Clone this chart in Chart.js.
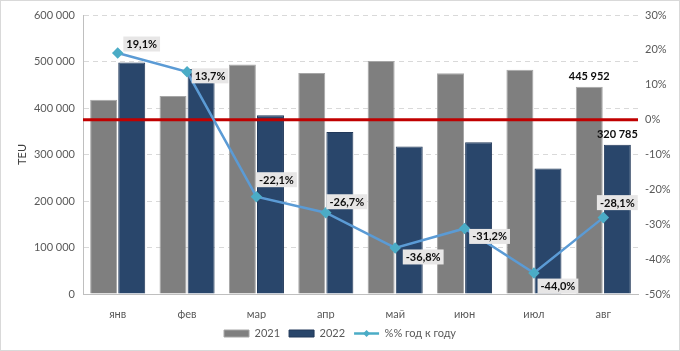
<!DOCTYPE html>
<html>
<head>
<meta charset="utf-8">
<script src="https://cdn.jsdelivr.net/npm/chart.js@4"></script>
<style>
  html, body { margin: 0; padding: 0; background: #fff; }
  canvas { display: block; }
</style>
</head>
<body>
<canvas id="myChart" width="680" height="351"></canvas>
<script>
const months = ["янв", "фев", "мар", "апр", "май", "июн", "июл", "авг"];
const teu2021 = [418000, 426000, 493600, 475500, 501000, 474700, 482000, 445952];
const teu2022 = [498000, 484000, 384500, 348600, 317000, 326600, 270000, 320785];
const yoyPct = [19.1, 13.7, -22.1, -26.7, -36.8, -31.2, -44.0, -28.1];
const seriesNames = ["2021", "2022", "%% год к году"];

// where each % label box sits relative to its point (dx, dy)
const pctLabelOffsets = [[24, -9], [23, 4], [20, -17], [21, -11], [28, 9], [25, 8], [24, 13], [14, -15]];
const barLabelIndex = 7;

Chart.defaults.font.family = "Lato";
Chart.defaults.font.size = 11;
Chart.defaults.color = "#595959";

const fmtNum = v => String(Math.round(v)).replace(/\B(?=(\d{3})+(?!\d))/g, " ");
const fmtPct = v => v.toFixed(1).replace(".", ",") + "%";

const zeroLine = {
  id: "zeroLine",
  beforeDatasetDraw(chart, args) {
    if (args.index !== 2) return;
    const { ctx, chartArea } = chart;
    const y = chart.scales.y1.getPixelForValue(0);
    ctx.save();
    ctx.strokeStyle = "#C00000";
    ctx.lineWidth = 3;
    ctx.beginPath();
    ctx.moveTo(chartArea.left, y);
    ctx.lineTo(chartArea.right, y);
    ctx.stroke();
    ctx.restore();
  }
};

const valueLabels = {
  id: "valueLabels",
  afterDatasetsDraw(chart) {
    const ctx = chart.ctx;
    ctx.save();
    ctx.font = "bold 11px Lato";
    ctx.textAlign = "center";
    ctx.textBaseline = "middle";
    chart.getDatasetMeta(2).data.forEach((p, i) => {
      const txt = fmtPct(yoyPct[i]);
      const [dx, dy] = pctLabelOffsets[i];
      const w = ctx.measureText(txt).width + 6, h = 15;
      const cx = p.x + dx, cy = p.y + dy;
      ctx.fillStyle = "#E7E6E6";
      ctx.fillRect(cx - w / 2, cy - h / 2, w, h);
      ctx.fillStyle = "#0D0D0D";
      ctx.fillText(txt, cx, cy + 0.5);
    });
    ctx.textBaseline = "bottom";
    ctx.fillStyle = "#0D0D0D";
    [teu2021, teu2022].forEach((arr, di) => {
      const bar = chart.getDatasetMeta(di).data[barLabelIndex];
      ctx.fillText(fmtNum(arr[barLabelIndex]), bar.x, bar.y - 5);
    });
    ctx.restore();
  }
};

const frame = {
  id: "frame",
  afterDraw(chart) {
    const ctx = chart.ctx;
    ctx.save();
    // diamond on the line legend item
    const hb = chart.legend.legendHitBoxes[2];
    if (hb) {
      const x = hb.left + 12.5, y = hb.top + hb.height / 2, r = 3.5;
      ctx.fillStyle = "#4BACC6";
      ctx.beginPath();
      ctx.moveTo(x, y - r); ctx.lineTo(x + r, y); ctx.lineTo(x, y + r); ctx.lineTo(x - r, y);
      ctx.closePath();
      ctx.fill();
    }
    ctx.strokeStyle = "#D9D9D9";
    ctx.lineWidth = 1;
    ctx.strokeRect(0.5, 0.5, chart.width - 1, chart.height - 1);
    ctx.restore();
  }
};

const data = {
  labels: months,
  datasets: [
    {
      type: "bar",
      label: seriesNames[0],
      data: teu2021,
      backgroundColor: "#7F7F7F",
      borderColor: "#A6A6A6",
      borderWidth: 1,
      yAxisID: "y",
      order: 1,
      categoryPercentage: 0.81,
      barPercentage: 0.96
    },
    {
      type: "bar",
      label: seriesNames[1],
      data: teu2022,
      backgroundColor: "#29466B",
      borderColor: "#22395A",
      borderWidth: 1,
      yAxisID: "y",
      order: 1,
      categoryPercentage: 0.81,
      barPercentage: 0.96
    },
    {
      type: "line",
      label: seriesNames[2],
      data: yoyPct,
      borderColor: "#5B9BD5",
      borderWidth: 2.5,
      pointStyle: "rectRot",
      pointRadius: 4,
      pointBackgroundColor: "#4BACC6",
      pointBorderColor: "#4BACC6",
      yAxisID: "y1",
      order: 0,
      tension: 0
    }
  ]
};

const config = {
  type: "bar",
  data: data,
  options: {
    responsive: false,
    animation: false,
    layout: { padding: { top: 15, left: 0, right: 0, bottom: 2 } },
    plugins: {
      tooltip: { enabled: false },
      legend: {
        position: "bottom",
        labels: {
          usePointStyle: true,
          pointStyleWidth: 25,
          boxHeight: 7,
          padding: 9,
          color: "#595959",
          font: { size: 11 },
          sort: (a, b) => a.datasetIndex - b.datasetIndex,
          generateLabels(chart) {
            const items = Chart.defaults.plugins.legend.labels.generateLabels(chart);
            items.forEach(it => { it.pointStyle = it.datasetIndex === 2 ? "line" : "rect"; });
            return items;
          }
        }
      }
    },
    scales: {
      x: {
        grid: { display: false },
        border: { display: true, color: "#BFBFBF" },
        ticks: { padding: 6, color: "#595959" },
        afterFit(s) { s.height = 25; }
      },
      y: {
        position: "left",
        min: 0,
        max: 600000,
        ticks: { stepSize: 100000, padding: 8, color: "#595959", callback: v => fmtNum(v) },
        grid: { color: "#D9D9D9", drawTicks: false },
        border: { display: true, color: "#BFBFBF", dash: [5, 4] },
        title: { display: true, text: "TEU", color: "#404040", font: { size: 11 }, padding: { top: 16, bottom: 0 } },
        afterFit(s) { s.width = 83; }
      },
      y1: {
        position: "right",
        min: -50,
        max: 30,
        ticks: { stepSize: 10, padding: 7, color: "#595959", callback: v => Math.round(v) + "%" },
        grid: { display: false, drawTicks: false },
        border: { display: false },
        afterFit(s) { s.width = 42; }
      }
    }
  },
  plugins: [zeroLine, valueLabels, frame]
};

const ctx = document.getElementById("myChart").getContext("2d");
const myChart = new Chart(ctx, config);
</script>
</body>
</html>
